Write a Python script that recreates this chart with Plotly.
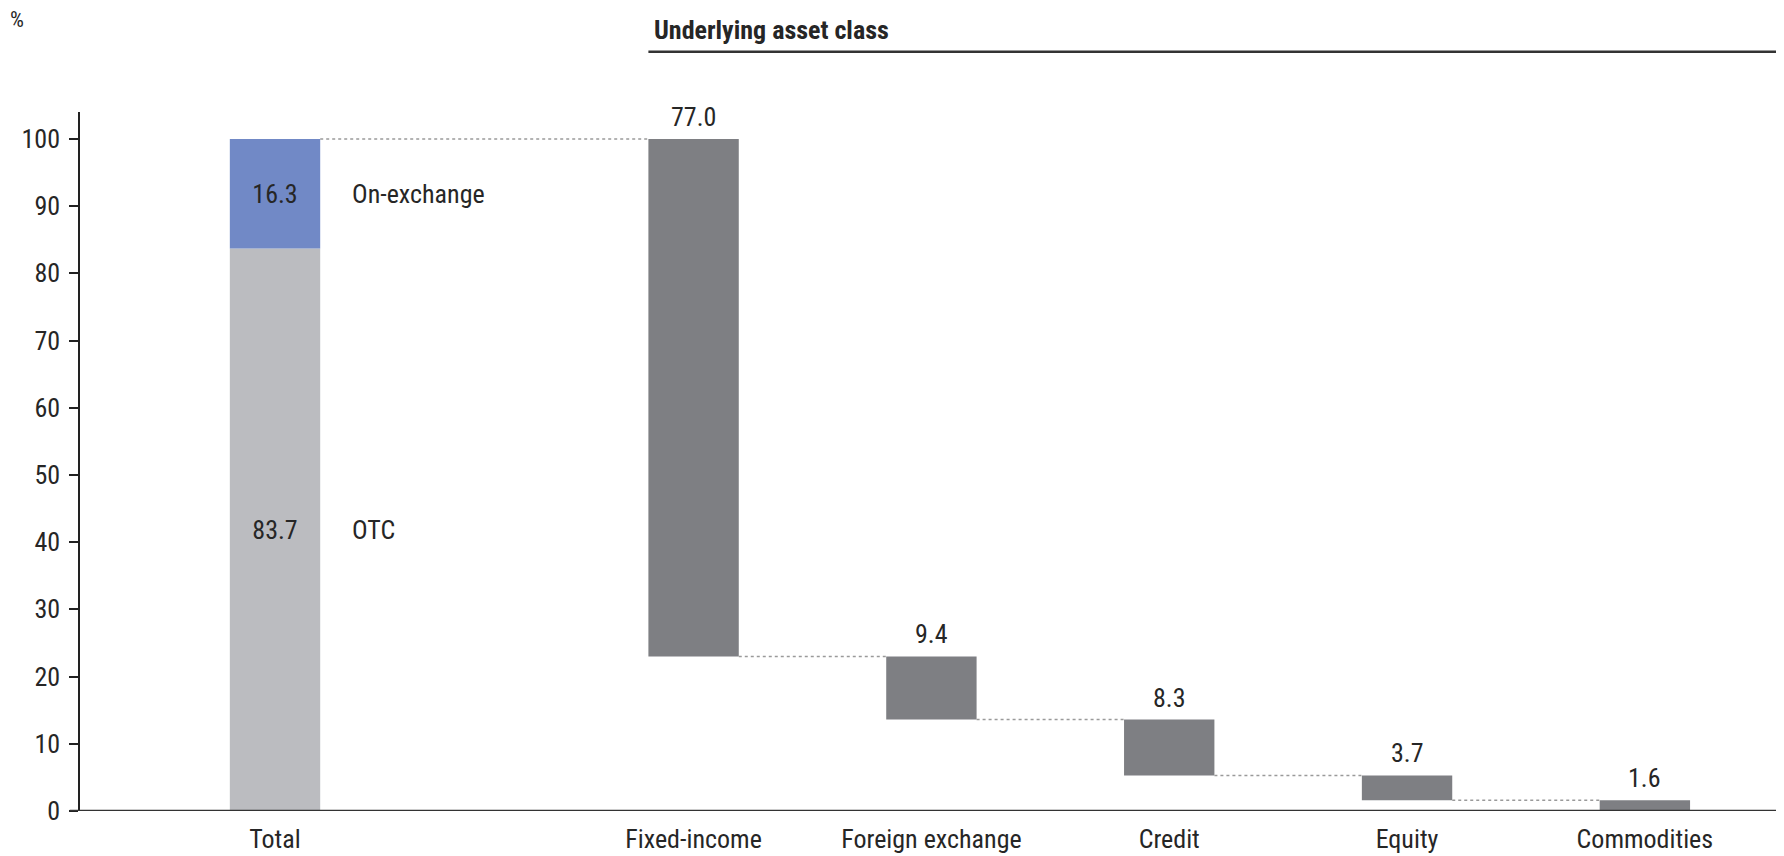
import plotly.graph_objects as go

# ---- data ----
total_parts = ["OTC", "On-exchange"]
total_values = [83.7, 16.3]
categories = ["Fixed-income", "Foreign exchange", "Credit", "Equity", "Commodities"]
cat_values = [77.0, 9.4, 8.3, 3.7, 1.6]
total_label = "Total"
y_ticks = [0, 10, 20, 30, 40, 50, 60, 70, 80, 90, 100]

# ---- style / layout helpers ----
FONT = "Roboto Condensed, Liberation Sans Narrow, sans-serif"
TXT = "#262626"
FS = 26
BW = 0.38
x_total = 0.0
gap = 1.76
x_cats = [gap + i for i in range(len(categories))]

fig = go.Figure()

# Total stacked bar
fig.add_trace(go.Bar(x=[x_total], y=[total_values[0]], base=[0], width=BW,
                     marker=dict(color="#BBBCC0", line=dict(width=0)),
                     text=[f"{total_values[0]:.1f}"], textposition="inside",
                     insidetextanchor="middle", constraintext="none",
                     textfont=dict(family=FONT, size=FS, color=TXT), hoverinfo="skip"))
fig.add_trace(go.Bar(x=[x_total], y=[total_values[1]], base=[total_values[0]], width=BW,
                     marker=dict(color="#7189C6", line=dict(width=0)),
                     text=[f"{total_values[1]:.1f}"], textposition="inside",
                     insidetextanchor="middle", constraintext="none",
                     textfont=dict(family=FONT, size=FS, color=TXT), hoverinfo="skip"))

# Waterfall bars
tops = []
bases = []
cur = sum(total_values)
for v in cat_values:
    tops.append(cur)
    cur = cur - v
    bases.append(cur)
fig.add_trace(go.Bar(x=x_cats, y=cat_values, base=bases, width=BW,
                     marker=dict(color="#7E7F83", line=dict(width=0)),
                     hoverinfo="skip"))

# value labels above waterfall bars
for xc, t, v in zip(x_cats, tops, cat_values):
    fig.add_annotation(x=xc, y=t, text=f"{v:.1f}", showarrow=False, yanchor="bottom",
                       yshift=5, font=dict(family=FONT, size=FS, color=TXT))

# dotted connectors
conn_x_start = [x_total] + x_cats[:-1]
conn_levels = [sum(total_values)] + bases[:-1]
for xs, xe, lv in zip(conn_x_start, x_cats, conn_levels):
    fig.add_trace(go.Scatter(x=[xs + BW / 2, xe - BW / 2], y=[lv, lv], mode="lines",
                             line=dict(color="#9A9A9A", width=1.5, dash="dot"),
                             hoverinfo="skip", showlegend=False))

# labels next to total
fig.add_annotation(x=x_total + BW / 2 + 0.125, y=total_values[0] + total_values[1] / 2,
                   text=total_parts[1], showarrow=False, xanchor="left",
                   font=dict(family=FONT, size=FS, color=TXT))
fig.add_annotation(x=x_total + BW / 2 + 0.125, y=total_values[0] / 2,
                   text=total_parts[0], showarrow=False, xanchor="left",
                   font=dict(family=FONT, size=FS, color=TXT))

x_max = x_cats[-1] + 0.585
x_min = -0.82

# header
fig.add_annotation(xref="paper", yref="paper", x=-0.0425, y=1.132, text="%",
                   showarrow=False, xanchor="left", yanchor="middle",
                   font=dict(family=FONT, size=22, color=TXT))
fig.add_annotation(xref="x", yref="paper", x=x_cats[0] - BW / 2 + 0.015, y=1.117,
                   text="<b>Underlying asset class</b>",
                   showarrow=False, xanchor="left", yanchor="middle",
                   font=dict(family=FONT, size=26, color=TXT))
fig.add_shape(type="line", xref="x", yref="paper", x0=x_cats[0] - BW / 2, x1=x_max,
              y0=1.0862, y1=1.0862, line=dict(color="#333333", width=2.5))

fig.update_layout(
    width=1784, height=856,
    margin=dict(l=72, r=8, t=104, b=53),
    paper_bgcolor="white", plot_bgcolor="white",
    showlegend=False, barmode="overlay",
    xaxis=dict(range=[x_min, x_max], tickmode="array",
               tickvals=[x_total] + x_cats, ticktext=[total_label] + categories,
               showgrid=False, zeroline=False, showline=False, ticks="",
               ticklabelstandoff=10,
               tickfont=dict(family=FONT, size=FS, color=TXT)),
    yaxis=dict(range=[0, 104], tickmode="array", tickvals=y_ticks,
               showgrid=False, zeroline=False, showline=True, linecolor="#222222",
               linewidth=1.5, ticks="outside", ticklen=9, tickcolor="#222222",
               tickwidth=1.5, ticklabelstandoff=4,
               tickfont=dict(family=FONT, size=FS, color=TXT)),
)
# baseline at zero
fig.add_shape(type="line", xref="paper", yref="y", x0=-0.006, x1=1, y0=0, y1=0,
              line=dict(color="#333333", width=2.5), layer="above")

fig.write_html("out.html")
